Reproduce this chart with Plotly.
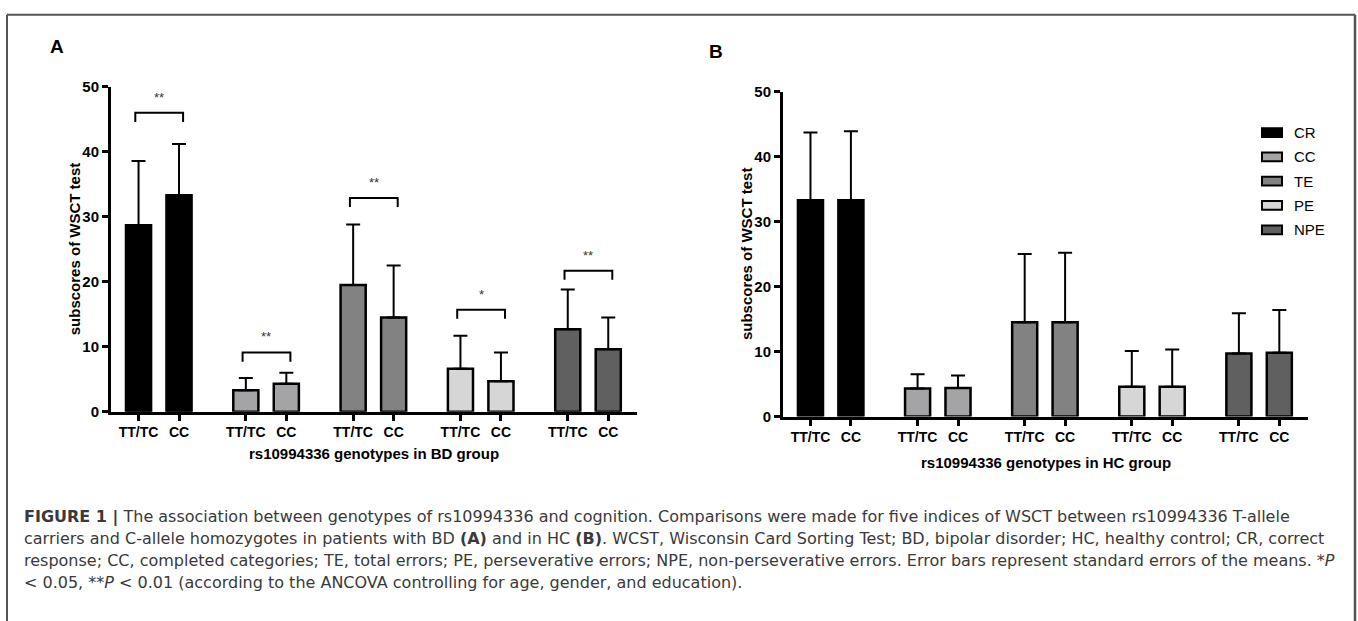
import plotly.graph_objects as go

W, H = 1358, 621

# ---------------- data ----------------
indices = ["CR", "CC", "TE", "PE", "NPE"]
genotypes = ["TT/TC", "CC"]
index_colors = ["#000000", "#a4a4a7", "#828282", "#d6d6d6", "#606060"]

# BD group (panel A): means and standard errors, per index
bd_mean_tt = [28.7, 3.3, 19.5, 6.6, 12.7]
bd_mean_cc = [33.3, 4.3, 14.5, 4.7, 9.6]
bd_sem_tt = [9.9, 1.9, 9.3, 5.1, 6.1]
bd_sem_cc = [7.9, 1.7, 8.0, 4.4, 4.9]

# HC group (panel B)
hc_mean_tt = [33.3, 4.3, 14.5, 4.6, 9.7]
hc_mean_cc = [33.3, 4.4, 14.5, 4.6, 9.8]
hc_sem_tt = [10.4, 2.2, 10.5, 5.5, 6.2]
hc_sem_cc = [10.6, 1.9, 10.7, 5.7, 6.6]

# significance in BD group
bd_sig_labels = ["**", "**", "**", "*", "**"]
bd_sig_heights = [46.0, 9.1, 32.9, 15.7, 21.7]

y_ticks = [0, 10, 20, 30, 40, 50]

# ---------------- layout helpers ----------------
FONT = "Arial, Liberation Sans, sans-serif"
CAP_FONT = "DejaVu Sans, Arial, sans-serif"
GROUP_STEP = 2.65
BAR_W = 0.62
pos_tt = [i * GROUP_STEP for i in range(len(indices))]
pos_cc = [p + 1 for p in pos_tt]
tickvals = [v for pair in zip(pos_tt, pos_cc) for v in pair]
ticktext = [g for _ in indices for g in genotypes]
X_RANGE = [-0.68, pos_cc[-1] + 0.71]


def px(x):
    return x / W


def py(y):
    return 1 - y / H


fig = go.Figure()


def add_panel(mean_tt, mean_cc, sem_tt, sem_cc, xa, ya):
    for i, name in enumerate(indices):
        fig.add_trace(go.Bar(
            x=[pos_tt[i], pos_cc[i]],
            y=[mean_tt[i], mean_cc[i]],
            width=BAR_W,
            name=name,
            showlegend=False,
            marker=dict(color=index_colors[i], line=dict(color="black", width=2.5)),
            error_y=dict(type="data", symmetric=False,
                         array=[sem_tt[i], sem_cc[i]], arrayminus=[0, 0],
                         color="black", thickness=2, width=7),
            xaxis=xa, yaxis=ya,
        ))


add_panel(bd_mean_tt, bd_mean_cc, bd_sem_tt, bd_sem_cc, "x", "y")
add_panel(hc_mean_tt, hc_mean_cc, hc_sem_tt, hc_sem_cc, "x2", "y2")


def xaxis_style(domain, anchor):
    return dict(domain=domain, anchor=anchor, range=X_RANGE, tickmode="array",
                tickvals=tickvals, ticktext=ticktext, showline=True,
                linecolor="black", linewidth=3, ticks="outside", ticklen=6,
                tickwidth=2.5, tickcolor="black", showgrid=False, zeroline=False,
                tickfont=dict(family=FONT, size=14, color="black", weight="bold"))


def yaxis_style(domain, anchor):
    return dict(domain=domain, anchor=anchor, range=[0, 50], tickmode="array",
                tickvals=y_ticks, showline=True, linecolor="black", linewidth=3,
                ticks="outside", ticklen=6, tickwidth=2.5, tickcolor="black",
                showgrid=False, zeroline=False,
                tickfont=dict(family=FONT, size=15, color="black", weight="bold"))


fig.update_layout(
    width=W, height=H, margin=dict(l=0, r=0, t=0, b=0),
    paper_bgcolor="white", plot_bgcolor="white", barmode="overlay",
    showlegend=False,
    xaxis=xaxis_style([px(111), px(637)], "y"),
    yaxis=yaxis_style([py(414), py(80)], "x"),
    xaxis2=xaxis_style([px(783), px(1308)], "y2"),
    yaxis2=yaxis_style([py(419), py(85)], "x2"),
)

shapes = []
annotations = []

# significance brackets (panel A)
for i, (lab, h) in enumerate(zip(bd_sig_labels, bd_sig_heights)):
    x0 = pos_tt[i] - 0.08
    x1 = pos_cc[i] + 0.1
    leg = 1.4
    shapes.append(dict(type="path", xref="x", yref="y",
                       path=f"M{x0},{h - leg} L{x0},{h} L{x1},{h} L{x1},{h - leg}",
                       line=dict(color="black", width=2)))
    annotations.append(dict(xref="x", yref="y", x=(x0 + x1) / 2, y=h + 2.4,
                            text=lab, showarrow=False, yanchor="middle",
                            font=dict(family=FONT, size=13, color="#333333")))

# legend (panel B)
for i, name in enumerate(indices):
    yc = 127 + 25 * i
    shapes.append(dict(type="rect", xref="paper", yref="paper",
                       x0=px(1262), x1=px(1282), y0=py(yc + 4.5), y1=py(yc - 4.5),
                       fillcolor=index_colors[i], line=dict(color="black", width=2)))
    annotations.append(dict(xref="paper", yref="paper", x=px(1292), y=py(yc),
                            text=name, showarrow=False, xanchor="left",
                            yanchor="middle",
                            font=dict(family=FONT, size=15, color="black")))

# axis titles
ytitle = "subscores of WSCT test"
for (xc, yc) in [(74, 247), (746, 252)]:
    annotations.append(dict(xref="paper", yref="paper", x=px(xc), y=py(yc),
                            text=ytitle, textangle=-90, showarrow=False,
                            xanchor="center", yanchor="middle",
                            font=dict(family=FONT, size=15, color="black", weight="bold")))
for (xc, yc, t) in [(374, 457, "rs10994336 genotypes in BD group"),
                    (1046, 466, "rs10994336 genotypes in HC group")]:
    annotations.append(dict(xref="paper", yref="paper", x=px(xc), y=py(yc),
                            text=t, showarrow=False, xanchor="center",
                            yanchor="middle",
                            font=dict(family=FONT, size=15, color="black", weight="bold")))

# panel letters
for (xc, yc, t) in [(57, 39, "A"), (716, 44, "B")]:
    annotations.append(dict(xref="paper", yref="paper", x=px(xc), y=py(yc),
                            text=t, showarrow=False, xanchor="center",
                            yanchor="middle",
                            font=dict(family=FONT, size=19, color="black", weight="bold")))

# caption
caption_lines = [
    "<b>FIGURE 1 |</b> The association between genotypes of rs10994336 and cognition. "
    "Comparisons were made for five indices of WSCT between rs10994336 T-allele",
    "carriers and C-allele homozygotes in patients with BD <b>(A)</b> and in HC <b>(B)</b>. "
    "WCST, Wisconsin Card Sorting Test; BD, bipolar disorder; HC, healthy control; CR, correct",
    "response; CC, completed categories; TE, total errors; PE, perseverative errors; NPE, "
    "non-perseverative errors. Error bars represent standard errors of the means. *<i>P</i>",
    "&lt; 0.05, **<i>P</i> &lt; 0.01 (according to the ANCOVA controlling for age, gender, and education).",
]
for k, line in enumerate(caption_lines):
    annotations.append(dict(xref="paper", yref="paper", x=px(22), y=py(522 + 22.5 * k),
                            text=line, showarrow=False, xanchor="left",
                            yanchor="middle", align="left",
                            font=dict(family=CAP_FONT, size=16, color="#3a3a3a")))

# outer frame
frame = dict(color="#555555", width=2)
shapes.append(dict(type="line", xref="paper", yref="paper", x0=px(7), x1=px(1355),
                   y0=py(6), y1=py(6), line=frame))
shapes.append(dict(type="line", xref="paper", yref="paper", x0=px(7), x1=px(7),
                   y0=py(6), y1=py(640), line=frame))
shapes.append(dict(type="line", xref="paper", yref="paper", x0=px(1355), x1=px(1355),
                   y0=py(6), y1=py(640), line=dict(color="#555555", width=2.5)))

fig.update_layout(shapes=shapes, annotations=annotations)

fig.write_html(
    "out.html",
    config={"displayModeBar": False},
    post_script="document.body.style.margin='0';document.body.style.overflow='hidden';",
)
